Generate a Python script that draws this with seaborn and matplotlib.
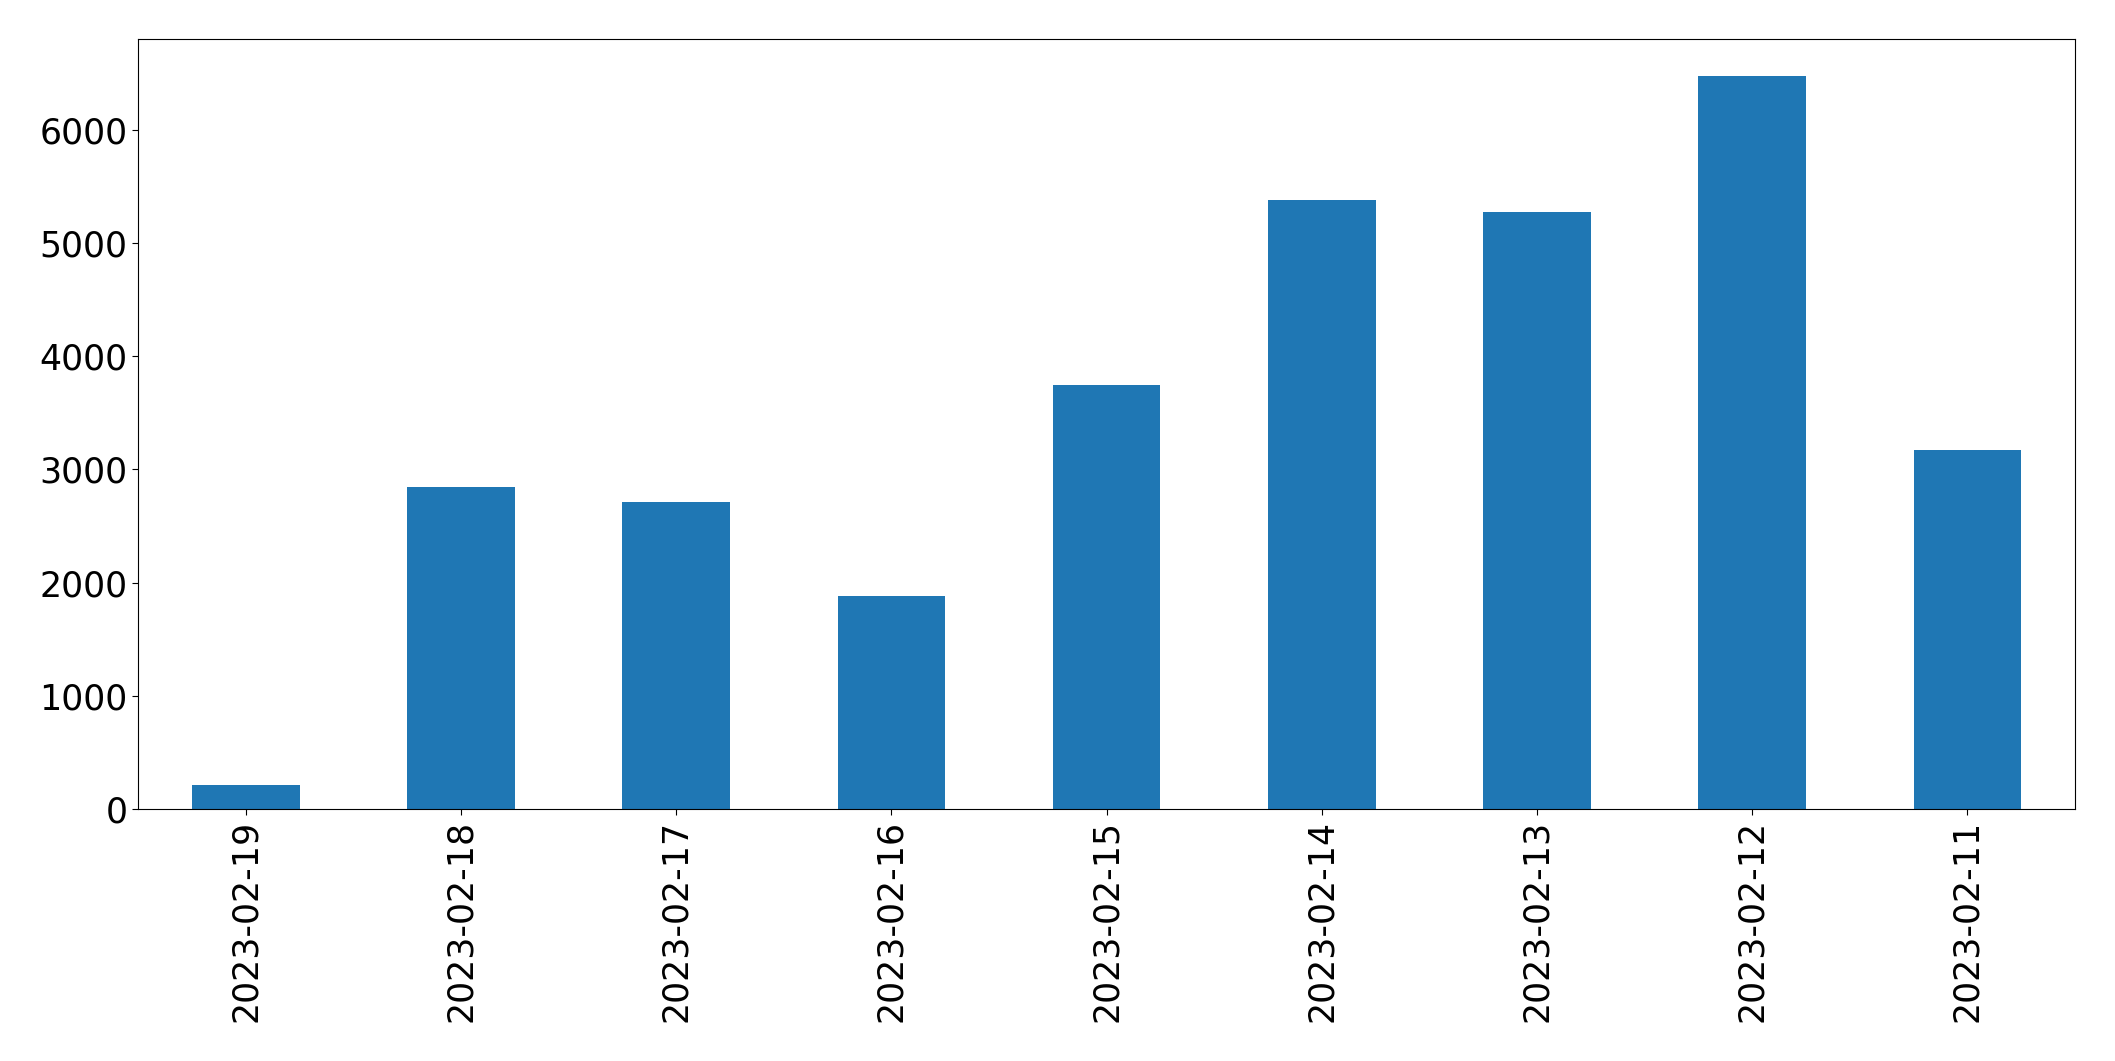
import pandas as pd
import matplotlib
matplotlib.use('Agg')
import matplotlib.pyplot as plt
import seaborn as sns

# Daily values, newest first (as shown in the chart)
dates = ['2023-02-19', '2023-02-18', '2023-02-17', '2023-02-16', '2023-02-15',
         '2023-02-14', '2023-02-13', '2023-02-12', '2023-02-11']
counts = [210, 2845, 2710, 1880, 3745, 5380, 5275, 6475, 3170]

df = pd.DataFrame({'date': dates, 'count': counts})

fig, ax = plt.subplots(figsize=(21.15, 10.61), dpi=100)
fig.subplots_adjust(left=0.0653, right=0.9811, top=0.9632, bottom=0.2375)

sns.barplot(data=df, x='date', y='count', order=dates, color='#1f77b4',
            saturation=1, width=0.5, linewidth=0, ax=ax)

ax.set_xlim(-0.5, len(dates) - 0.5)
ax.set_xlabel('')
ax.set_ylabel('')
ax.tick_params(axis='both', labelsize=25, length=4.2)
ax.tick_params(axis='x', labelrotation=90)

plt.savefig('out.png', dpi=100)
